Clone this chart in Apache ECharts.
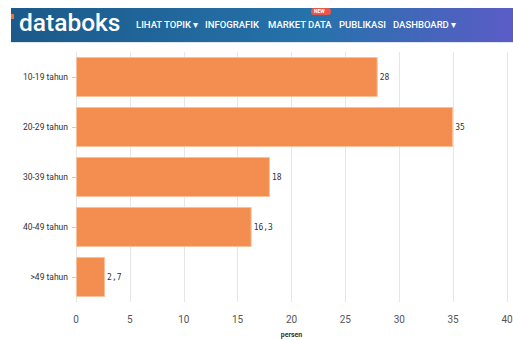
<!DOCTYPE html>
<html><head><meta charset="utf-8">
<script src="https://cdn.jsdelivr.net/npm/echarts@6/dist/echarts.min.js"></script>
<style>html,body{margin:0;padding:0;background:#fff;}#c{width:513px;height:340px;}</style>
</head><body><div id="c"></div>
<script>
var categories = ['10-19 tahun','20-29 tahun','30-39 tahun','40-49 tahun','>49 tahun'];
var values = [28, 35, 18, 16.3, 2.7];
var xTicks = [0,5,10,15,20,25,30,35,40];
var navItems = ['LIHAT TOPIK \u25BE','INFOGRAFIK','MARKET DATA','PUBLIKASI','DASHBOARD \u25BE'];
var navX = [136, 205, 268, 339, 393];

var chart = echarts.init(document.getElementById('c'), null, {renderer:'svg'});
var graphics = [
  {type:'rect', left:11, top:8, shape:{width:502, height:34},
   style:{fill:new echarts.graphic.LinearGradient(0,0,1,0,[{offset:0,color:'#1b5a8a'},{offset:0.6,color:'#2672ab'},{offset:1,color:'#5b5cc6'}])}, z:0},
  {type:'rect', left:11, top:42, shape:{width:502, height:1}, style:{fill:'#dfe6ee'}},
  {type:'rect', left:11, top:14, shape:{width:3, height:5}, style:{fill:'#e8743b'}},
  {type:'text', left:19, top:10, style:{text:'databoks', fill:'#ffffff', font:'500 24.5px Roboto'}},
  {type:'rect', left:311, top:8, shape:{width:20, height:7, r:3}, style:{fill:'#e8574b'}},
  {type:'text', left:314, top:8.5, style:{text:'NEW', fill:'#ffffff', font:'bold 5px Roboto'}}
];
navItems.forEach(function(t,i){
  graphics.push({type:'text', left:navX[i], top:19, style:{text:t, fill:'#ffffff', font:'500 9.5px Roboto'}});
});

chart.setOption({
  animation:false,
  graphic: graphics,
  grid:{left:76, right:6, top:52, bottom:38, containLabel:false, outerBoundsMode:'none'},
  xAxis:{type:'value', min:0, max:40, interval:5,
    name:'persen', nameLocation:'middle', nameGap:29,
    nameTextStyle:{fontSize:7, color:'#333', fontWeight:'bold', fontFamily:'Roboto'},
    axisLine:{show:false}, axisTick:{show:false},
    axisLabel:{fontSize:10, color:'#555', margin:12, fontFamily:'Roboto',
      formatter:function(v){return xTicks.indexOf(v)>=0? String(v):'';}},
    splitLine:{show:true, lineStyle:{color:'#e6e6e6'}}},
  yAxis:{type:'category', data:categories, inverse:true,
    axisLine:{show:true, lineStyle:{color:'#e6e6e6'}},
    axisTick:{show:true, length:4, alignWithLabel:true, lineStyle:{color:'#ccc'}},
    axisLabel:{fontSize:8.5, color:'#333', margin:8, fontFamily:'Roboto'}},
  series:[{type:'bar', data:values, barCategoryGap:'20%',
    itemStyle:{color:'#f48d50', borderColor:'#f9c09c', borderWidth:1},
    label:{show:true, position:'right', distance:2, fontSize:8, color:'#333', fontFamily:'DejaVu Sans Mono',
      formatter:function(p){return String(p.value).replace('.',',');}}}]
});
</script></body></html>
